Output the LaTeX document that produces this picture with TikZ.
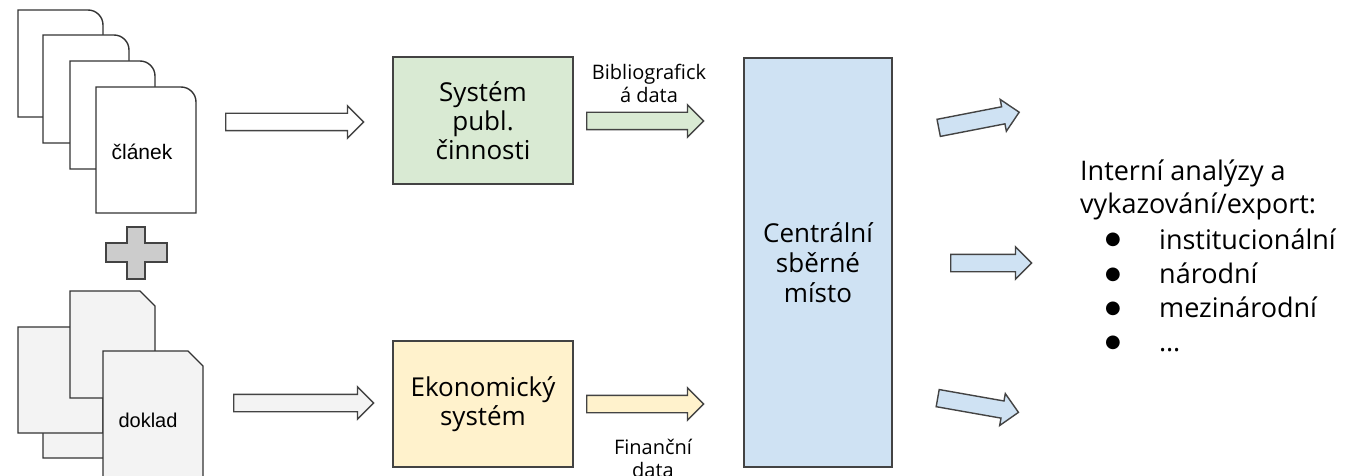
\documentclass[tikz,border=0pt]{standalone}
\usepackage{fontspec}
\setmainfont{Open Sans}
\newfontfamily\arialfont{Liberation Sans}
\newfontfamily\dejavu{DejaVu Sans}
\usetikzlibrary{shapes.arrows}

\definecolor{zelena}{HTML}{D9EAD3}
\definecolor{zluta}{HTML}{FFF2CC}
\definecolor{modra}{HTML}{CFE2F3}
\definecolor{seda}{HTML}{F3F3F3}
\definecolor{krizek}{HTML}{CCCCCC}
\definecolor{linka}{HTML}{434343}

% list papiru: x, y, sirka, vyska
\newcommand{\clanekpaper}[4]{%
  \draw[paper] (#1,#2+#4) -- (#1,#2) -- (#1+#3-15,#2) .. controls (#1+#3-6.7,#2) and (#1+#3,#2+6.7) .. (#1+#3,#2+15) -- (#1+#3,#2+#4) -- cycle;}
\newcommand{\dokladpaper}[4]{%
  \draw[paper,fill=seda] (#1,#2+#4) -- (#1,#2) -- (#1+#3-15,#2) -- (#1+#3,#2+15) -- (#1+#3,#2+#4) -- cycle;}

\begin{document}
\begin{tikzpicture}[x=1pt,y=-1pt,
  paper/.style={draw=black!80,line width=1.4pt,fill=white},
  box/.style={draw=linka,line width=1.6pt,align=center,inner sep=0pt,font=\fontsize{26}{29}\selectfont},
  blk/.style={single arrow,draw=linka,line width=1.4pt,inner xsep=0pt,inner ysep=8pt,
    single arrow head extend=7.5pt,anchor=tail,minimum height=#1},
  popis/.style={align=center,font=\fontsize{20}{23}\selectfont},
  polozka/.style={anchor=base west,inner sep=0pt,font=\fontsize{27}{29}\selectfont},
  tecka/.style={inner sep=0pt,font=\dejavu\fontsize{18}{18}\selectfont}]

  \clip (0,0) rectangle (1358,476);

  % clanky
  \clanekpaper{18}{10}{85}{107}
  \clanekpaper{43}{35}{86}{108}
  \clanekpaper{70}{61}{85}{108}
  \clanekpaper{96}{87}{100}{126}
  \node[font=\arialfont\fontsize{21}{24}\selectfont] (clanek) at (142,152) {článek};

  % plus
  \draw[draw=linka,line width=1.4pt,fill=krizek] (127,227) -- (145,227) -- (145,243) -- (167,243)
    -- (167,262) -- (145,262) -- (145,279) -- (127,279) -- (127,262) -- (106,262)
    -- (106,243) -- (127,243) -- cycle;

  % doklady
  \dokladpaper{43}{351}{86}{107}
  \dokladpaper{18}{327}{85}{106}
  \dokladpaper{70}{291}{85}{107}
  \dokladpaper{103}{351}{100}{140}
  \node[font=\arialfont\fontsize{20}{24}\selectfont] (doklad) at (148,420) {doklad};

  % systemy
  \node[box,fill=zelena,minimum width=180pt,minimum height=127pt] (publ) at (483,120.5) {Systém\\publ.\\činnosti};
  \node[box,fill=zluta,minimum width=180pt,minimum height=126pt] (eko) at (483,404) {Ekonomický\\systém};
  \node[box,fill=modra,minimum width=148pt,minimum height=409pt,font=\fontsize{26}{30}\selectfont] (central) at (818,262.5) {Centrální\\sběrné\\místo};

  % sipky
  \node[blk=138pt,fill=white] (a1) at (225,122) {};
  \node[blk=140pt,fill=seda] (a2) at (233,403) {};
  \node[blk=117pt,fill=zelena] (a3) at (586,121) {};
  \node[blk=117pt,fill=zluta] (a4) at (586,404) {};
  \node[blk=82pt,fill=modra,rotate=11] (a5) at (938,128) {};
  \node[blk=81pt,fill=modra] (a6) at (950,263) {};
  \node[blk=82pt,fill=modra,rotate=-10] (a7) at (937,398) {};

  \node[popis] (biblio) at (649,83.5) {Bibliografick\\á data};
  \node[popis] (fin) at (653,458) {Finanční\\data};

  % vystupy
  \node[polozka] (v1) at (1080,181) {Interní analýzy a};
  \node[polozka] (v2) at (1080,214) {vykazování/export:};
  \node[tecka] (b1) at (1113,240) {●};
  \node[polozka] (v3) at (1159,249) {institucionální};
  \node[tecka] (b2) at (1113,275) {●};
  \node[polozka] (v4) at (1159,283) {národní};
  \node[tecka] (b3) at (1113,309) {●};
  \node[polozka] (v5) at (1159,317) {mezinárodní};
  \node[tecka] (b4) at (1113,343) {●};
  \node[polozka] (v6) at (1159,351) {\dots};
\end{tikzpicture}
\end{document}
